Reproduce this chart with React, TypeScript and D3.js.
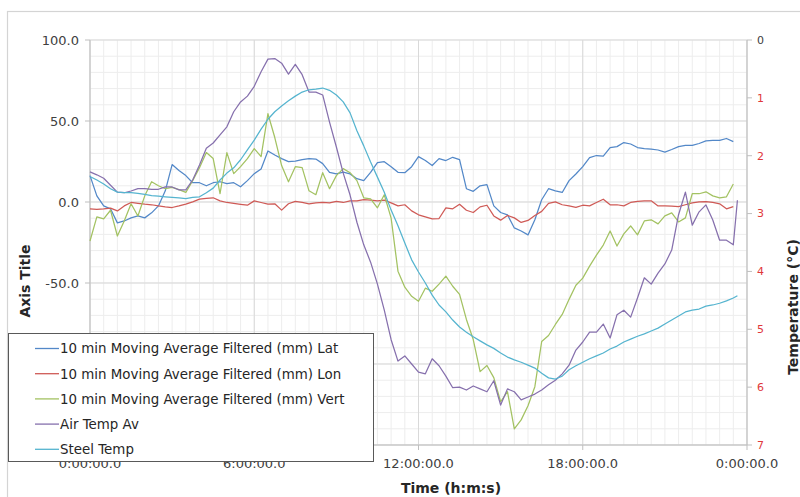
import React from "react";
import * as d3 from "d3";

// time grid in hours (15-min steps)
const TIMES: number[] = d3.range(0, 23.51, 0.25);
const TEMP_TIMES: number[] = [...TIMES, 23.65];

// left axis series (mm)
const LAT = [
  16.3, 3.8, -2.4, -4.2, -12.9, -11.7, -9.8, -8.6, -9.8, -6.7, -2.4, 6.9,
  23.1, 19.4, 16.3, 11.9, 11.9, 10.0, 11.9, 12.5, 11.3, 11.9, 9.4, 13.2,
  17.5, 20.4, 31.5, 29.0, 26.8, 24.9, 25.2, 26.2, 26.8, 26.5, 23.7, 18.3,
  17.3, 18.4, 17.3, 14.4, 13.2, 18.3, 24.3, 24.9, 21.8, 18.3, 18.1, 21.8,
  28.0, 25.6, 22.5, 26.8, 25.6, 27.6, 26.2, 8.2, 6.6, 10.0, 10.7, -2.4,
  -6.5, -7.9, -16.0, -17.9, -20.3, -11.0, 1.4, 8.2, 6.9, 5.9, 13.2, 17.3,
  21.8, 27.4, 28.7, 28.3, 33.6, 34.2, 36.7, 35.8, 33.6, 33.0, 32.7, 32.1,
  30.8, 32.4, 34.2, 34.9, 34.9, 36.1, 37.7, 38.0, 38.0, 39.2, 37.3,
];
const LON = [
  -4.2, -4.5, -4.2, -3.8, -5.5, -2.4, -0.3, -0.8, -1.3, -1.7, -2.4, -3.0,
  -3.4, -2.4, -1.3, 0.1, 1.8, 2.3, 2.6, 0.7, -0.3, -0.8, -1.4, -2.0,
  0.7, -0.3, -1.3, -1.1, -5.0, -1.1, 0.4, -0.3, -1.1, -0.5, -0.3, -0.5,
  0.4, -0.3, 0.7, 0.7, 1.4, 1.1, 0.7, 1.2, -0.5, -2.4, -1.7, -5.5,
  -7.9, -9.2, -10.4, -10.2, -3.6, -4.2, -1.4, -5.1, -6.5, -3.0, -2.0, -8.6,
  -11.2, -8.3, -9.8, -12.6, -11.4, -8.3, -5.8, -0.8, 0.1, -1.7, -2.4, -3.3,
  -2.0, -2.4, -0.3, 1.7, -1.7, -1.7, -2.4, -0.3, 0.4, 0.7, 0.7, -2.4,
  -2.4, -2.5, -2.8, -1.7, -0.5, 0.1, 0.3, -0.2, -1.1, -4.2, -2.8,
];
const VERT = [
  -24.1, -9.2, -10.4, -5.1, -21.0, -11.7, -1.1, -8.6, 3.8, 12.5, 10.0, 8.2,
  9.0, 7.6, 5.9, 13.2, 21.2, 30.5, 26.8, 5.1, 30.5, 17.5, 21.8, 26.8,
  33.0, 28.0, 54.5, 39.8, 22.5, 12.5, 21.8, 21.2, 6.9, 4.5, 18.1, 8.2,
  16.3, 20.6, 18.1, 13.2, 2.6, 2.0, -3.6, 4.5, -10.0, -42.7, -52.6, -58.2,
  -61.3, -53.2, -55.1, -50.7, -45.8, -52.0, -57.0, -72.5, -84.9, -104.7, -100.9, -108.4,
  -123.3, -117.1, -140.1, -134.5, -125.8, -114.0, -86.1, -82.4, -75.6, -69.4, -60.1, -51.4,
  -47.0, -39.6, -32.8, -26.6, -17.9, -27.2, -19.7, -14.8, -20.3, -11.7, -11.0, -13.5,
  -8.6, -6.7, -12.3, -9.8, 5.1, 5.1, 6.3, 3.8, 2.6, 3.2, 11.1,
];

// right axis series (°C)
const AIR_TEMP = [
  2.28, 2.33, 2.39, 2.51, 2.63, 2.64, 2.61, 2.57, 2.57, 2.58, 2.58, 2.54,
  2.54, 2.59, 2.59, 2.42, 2.16, 1.87, 1.78, 1.64, 1.5, 1.24, 1.07, 0.97,
  0.8, 0.55, 0.33, 0.32, 0.4, 0.59, 0.42, 0.6, 0.9, 0.9, 0.95, 1.42,
  1.85, 2.3, 2.68, 3.15, 3.54, 3.84, 4.22, 4.67, 5.18, 5.55, 5.46, 5.6,
  5.74, 5.77, 5.51, 5.63, 5.81, 6.01, 6.0, 6.05, 5.98, 6.03, 6.08, 5.89,
  6.31, 6.03, 6.08, 6.22, 6.17, 6.12, 6.05, 5.96, 5.88, 5.77, 5.62, 5.36,
  5.22, 5.05, 5.05, 4.91, 5.15, 4.75, 4.67, 4.79, 4.46, 4.11, 4.22, 4.03,
  3.87, 3.63, 3.02, 2.63, 3.2, 2.97, 2.85, 3.11, 3.46, 3.46, 3.54, 2.77,
];
const STEEL_TEMP = [
  2.36, 2.42, 2.49, 2.57, 2.63, 2.64, 2.64, 2.65, 2.67, 2.69, 2.7, 2.71,
  2.72, 2.73, 2.74, 2.72, 2.71, 2.64, 2.56, 2.42, 2.3, 2.21, 2.07, 1.9,
  1.73, 1.54, 1.37, 1.24, 1.14, 1.05, 0.97, 0.9, 0.86, 0.85, 0.83, 0.87,
  0.95, 1.07, 1.26, 1.57, 1.83, 2.11, 2.37, 2.63, 2.94, 3.21, 3.51, 3.8,
  4.01, 4.2, 4.41, 4.58, 4.7, 4.84, 4.96, 5.05, 5.13, 5.2, 5.27, 5.33,
  5.41, 5.48, 5.53, 5.57, 5.62, 5.67, 5.76, 5.84, 5.86, 5.81, 5.7, 5.63,
  5.57, 5.51, 5.46, 5.41, 5.34, 5.29, 5.22, 5.17, 5.12, 5.08, 5.03, 4.98,
  4.91, 4.84, 4.77, 4.7, 4.67, 4.65, 4.6, 4.58, 4.55, 4.51, 4.46, 4.42,
];

const X_TICKS = [0, 6, 12, 18, 24];
const X_TICK_LABELS = ["0:00:00.0", "6:00:00.0", "12:00:00.0", "18:00:00.0", "0:00:00.0"];
const LEFT_TICKS = [100, 50, 0, -50, -100, -150];
// labels visible in the reference (the lower ones sit under the legend)
const LEFT_LABELED = [100, 50, 0, -50];
const RIGHT_TICKS = [0, 1, 2, 3, 4, 5, 6, 7];

const SERIES_NAMES = [
  "10 min Moving Average Filtered (mm) Lat",
  "10 min Moving Average Filtered (mm) Lon",
  "10 min Moving Average Filtered (mm) Vert",
  "Air Temp Av",
  "Steel Temp",
];
const COLORS = ["#5388c8", "#cf5a56", "#a3c262", "#8670ad", "#55b4cf"];

const FONT = "'DejaVu Sans', Verdana, sans-serif";

export default function App() {
  const left = 90, right = 747, top = 40, bottom = 445;
  const x = d3.scaleLinear().domain([0, 24]).range([left, right]);
  const yL = d3.scaleLinear().domain([-150, 100]).range([bottom, top]);
  const yR = d3.scaleLinear().domain([0, 7]).range([top, bottom]);

  const lineL = (vals: number[]) =>
    d3.line<number>().x((_, i) => x(TIMES[i])).y((v) => yL(v))(vals) || "";
  const lineR = (vals: number[]) =>
    d3.line<number>().x((_, i) => x(TEMP_TIMES[i])).y((v) => yR(v))(vals) || "";

  const paths = [lineL(LAT), lineL(LON), lineL(VERT), lineR(AIR_TEMP), lineR(STEEL_TEMP)];

  const minorX = d3.range(0, 24.01, 0.5);
  const minorY = d3.range(-150, 100.01, 10);

  const legendX = 8, legendY = 333, legendW = 365, legendH = 128;

  return (
    <svg
      width={800}
      height={497}
      style={{ position: "absolute", left: 0, top: 0, background: "#fff", fontFamily: FONT }}
    >
      <rect x={0} y={0} width={800} height={497} fill="#fff" />
      <rect x={7.5} y={11.5} width={810} height={500} fill="#fff" stroke="#d4d4d4" strokeWidth={1.2} />

      {/* minor grid */}
      {minorX.map((t) => (
        <line key={"mx" + t} x1={x(t)} x2={x(t)} y1={top} y2={bottom} stroke="#ededed" strokeWidth={1} />
      ))}
      {minorY.map((v) => (
        <line key={"my" + v} x1={left} x2={right} y1={yL(v)} y2={yL(v)} stroke="#ededed" strokeWidth={1} />
      ))}
      {/* major grid */}
      {X_TICKS.map((t) => (
        <line key={"gx" + t} x1={x(t)} x2={x(t)} y1={top} y2={bottom} stroke="#d9d9d9" strokeWidth={1} />
      ))}
      {LEFT_TICKS.map((v) => (
        <line key={"gy" + v} x1={left} x2={right} y1={yL(v)} y2={yL(v)} stroke="#d9d9d9" strokeWidth={1} />
      ))}

      {/* axes */}
      <line x1={left} x2={left} y1={top} y2={bottom} stroke="#bfbfbf" />
      <line x1={right} x2={right} y1={top} y2={bottom} stroke="#bfbfbf" />
      <line x1={left} x2={right} y1={bottom} y2={bottom} stroke="#bfbfbf" />

      {LEFT_TICKS.map((v) => (
        <line key={"ltm" + v} x1={left - 5} x2={left} y1={yL(v)} y2={yL(v)} stroke="#bfbfbf" />
      ))}
      {LEFT_LABELED.map((v) => (
        <text key={"lt" + v} x={left - 11} y={yL(v)} dy="0.35em" textAnchor="end" fontSize={13} fill="#404040">
          {v.toFixed(1)}
        </text>
      ))}
      {RIGHT_TICKS.map((v) => (
        <g key={"rt" + v}>
          <line x1={right} x2={right + 5} y1={yR(v)} y2={yR(v)} stroke="#bfbfbf" />
          <text x={757} y={yR(v)} dy="0.35em" textAnchor="start" fontSize={11} fill={v === 0 ? "#404040" : "#e0383b"}>
            {v}
          </text>
        </g>
      ))}
      {X_TICKS.map((t, i) => (
        <g key={"xt" + t}>
          <line x1={x(t)} x2={x(t)} y1={bottom} y2={bottom + 5} stroke="#bfbfbf" />
          <text x={x(t)} y={468} textAnchor="middle" fontSize={13} fill="#404040">
            {X_TICK_LABELS[i]}
          </text>
        </g>
      ))}

      {/* titles */}
      <text x={451} y={493} textAnchor="middle" fontSize={14} fontWeight="bold" fill="#262626">
        Time (h:m:s)
      </text>
      <text
        transform="translate(30,281) rotate(-90)"
        textAnchor="middle"
        fontSize={14}
        fontWeight="bold"
        fill="#262626"
      >
        Axis Title
      </text>
      <text
        transform="translate(798,307) rotate(-90)"
        textAnchor="middle"
        fontSize={14}
        fontWeight="bold"
        fill="#262626"
      >
        Temperature (°C)
      </text>

      {/* series */}
      {paths.map((d, i) => (
        <path key={"s" + i} d={d} fill="none" stroke={COLORS[i]} strokeWidth={1.25} strokeLinejoin="round" />
      ))}

      {/* legend */}
      <rect x={legendX + 0.5} y={legendY + 0.5} width={legendW} height={legendH} fill="#fff" stroke="#595959" strokeWidth={1} />
      {SERIES_NAMES.map((name, i) => {
        const cy = 348.5 + i * 25.2;
        return (
          <g key={"lg" + i}>
            <line x1={35} x2={59} y1={cy} y2={cy} stroke={COLORS[i]} strokeWidth={1.3} />
            <text x={60} y={cy} dy="0.36em" fontSize={13.4} fill="#262626">
              {name}
            </text>
          </g>
        );
      })}
    </svg>
  );
}
